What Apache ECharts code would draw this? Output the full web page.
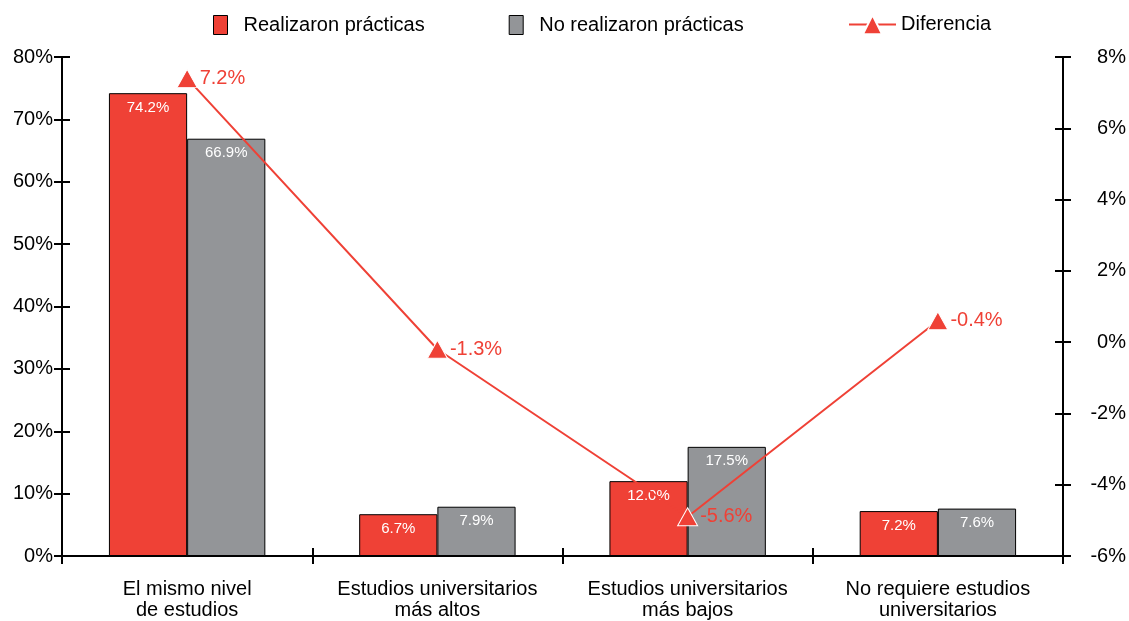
<!DOCTYPE html>
<html>
<head>
<meta charset="utf-8">
<script src="https://cdn.jsdelivr.net/npm/echarts@6/dist/echarts.min.js"></script>
<style>
html, body { margin: 0; padding: 0; background: #fff; }
#main { width: 1129px; height: 621px; }
</style>
</head>
<body>
<div id="main"></div>
<script>
var categories = ['El mismo nivel\nde estudios', 'Estudios universitarios\nmás altos', 'Estudios universitarios\nmás bajos', 'No requiere estudios\nuniversitarios'];
var realizaron = [74.2, 6.7, 12.0, 7.2]; // %
var noRealizaron = [66.9, 7.9, 17.5, 7.6]; // %
var diferencia = [7.4, -0.2, -4.9, 0.6];
var diferenciaText = ['7.2%', '-1.3%', '-5.6%', '-0.4%']; // etiquetas tal como aparecen

var RED = '#EF4136';
var GREY = '#939598';
var FONT = 'Liberation Sans, Arial, sans-serif';

var chartDom = document.getElementById('main');
var myChart = echarts.init(chartDom);

function yAxisBase(pos, min, max, interval, inside) { // eje Y (ticks por fuera o por dentro)
    return {
        type: 'value',
        position: pos,
        min: min,
        max: max,
        interval: interval,
        splitLine: { show: false },
        axisLine: { show: !inside, lineStyle: { color: '#000', width: 2 } },
        axisTick: { show: true, inside: inside, length: 8, lineStyle: { color: '#000', width: 2 } },
        axisLabel: { show: false }
    };
}

var yLeft = yAxisBase('left', 0, 80, 10, false);
yLeft.axisLabel = { show: true, formatter: '{value}%', color: '#000', fontSize: 20, fontFamily: FONT, margin: 9 };
var yRight = yAxisBase('right', -6, 8, 2, false);
yRight.axisLabel = { show: true, formatter: '{value}%', color: '#000', fontSize: 20, fontFamily: FONT, margin: 63, align: 'right' };

function xAxisBase(inside, labels) {
    return {
        type: 'category',
        data: categories,
        position: 'bottom',
        axisLine: { show: !inside, onZero: false, lineStyle: { color: '#000', width: 2 } },
        axisTick: { show: true, inside: inside, length: 8, lineStyle: { color: '#000', width: 2 } },
        axisLabel: { show: labels, color: '#000', fontSize: 20, fontFamily: FONT, lineHeight: 21, margin: 23, interval: 0 }
    };
}

var option = {
    animation: false,
    backgroundColor: '#fff',
    textStyle: { fontFamily: FONT },
    grid: { left: 62, right: 65, top: 57, bottom: 58, containLabel: false },
    legend: [{
        data: [
            { name: 'Realizaron prácticas', icon: 'rect', itemStyle: { color: RED, borderColor: '#000', borderWidth: 1 } },
            { name: 'No realizaron prácticas', icon: 'rect', itemStyle: { color: GREY, borderColor: '#000', borderWidth: 1 } }
        ],
        left: 208,
        top: 10,
        itemWidth: 14,
        itemHeight: 19,
        itemGap: 84,
        textStyle: { fontSize: 20, color: '#000', fontFamily: FONT, padding: [0, 0, 0, 11] }
    }, {
        data: ['Diferencia'],
        left: 843,
        top: 9,
        itemWidth: 47,
        itemHeight: 24,
        textStyle: { fontSize: 20, color: '#000', fontFamily: FONT }
    }],
    xAxis: [xAxisBase(false, true), xAxisBase(true, false)],
    yAxis: [yLeft, yRight, yAxisBase('left', 0, 80, 10, true), yAxisBase('right', -6, 8, 2, true)],
    series: [{
        name: 'Realizaron prácticas',
        type: 'bar',
        data: realizaron,
        barGap: '0%',
        barCategoryGap: '37.5%',
        itemStyle: { color: RED, borderColor: '#000', borderWidth: 1 },
        label: { show: true, position: 'insideTop', distance: 7, color: '#fff', fontSize: 15, fontFamily: FONT,
            formatter: function(p) { return p.value.toFixed(1) + '%'; } }
    }, {
        name: 'No realizaron prácticas',
        type: 'bar',
        data: noRealizaron,
        itemStyle: { color: GREY, borderColor: '#000', borderWidth: 1 },
        label: { show: true, position: 'insideTop', distance: 7, color: '#fff', fontSize: 15, fontFamily: FONT,
            formatter: function(p) { return p.value.toFixed(1) + '%'; } }
    }, {
        name: 'Diferencia',
        type: 'line',
        yAxisIndex: 1,
        data: diferencia,
        z: 5,
        symbol: 'triangle',
        symbolSize: [20, 18],
        lineStyle: { color: RED, width: 2 },
        itemStyle: { color: RED, borderColor: '#fff', borderWidth: 1 },
        label: { show: true, position: 'right', distance: 2, color: RED, fontSize: 20, fontFamily: FONT,
            formatter: function(p) { return diferenciaText[p.dataIndex]; } }
    }]
};

option && myChart.setOption(option);
</script>
</body>
</html>
